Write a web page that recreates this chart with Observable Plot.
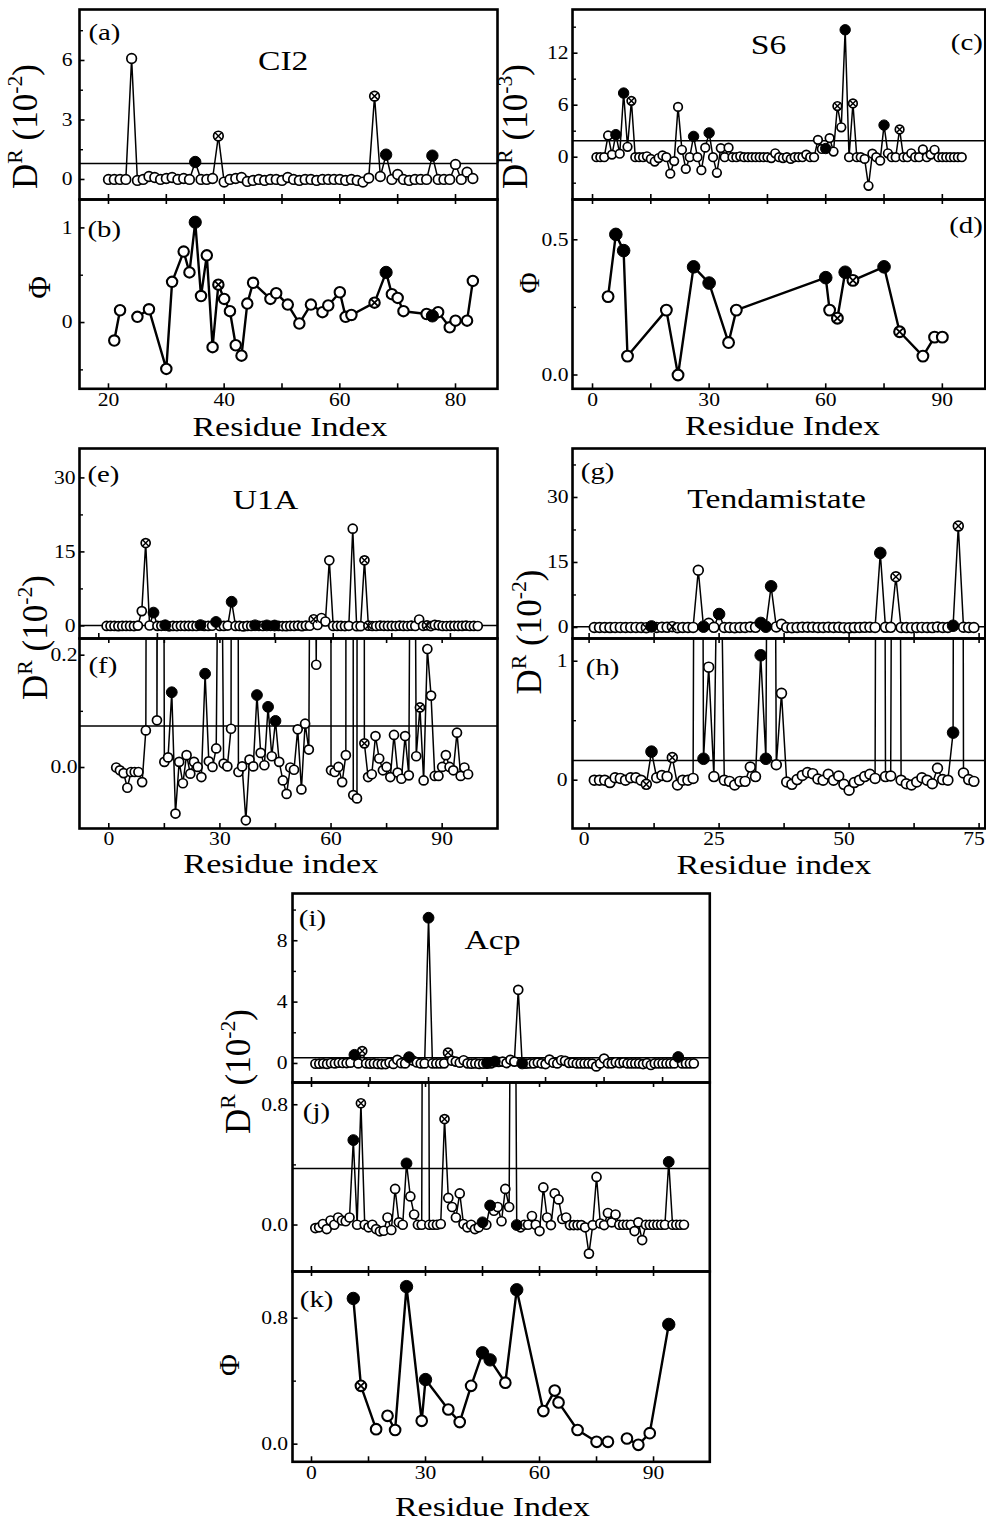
<!DOCTYPE html>
<html>
<head>
<meta charset="utf-8">
<script src="https://cdn.jsdelivr.net/npm/d3@7"></script>
<script src="https://cdn.jsdelivr.net/npm/@observablehq/plot@0.6"></script>
<style>
html,body{margin:0;padding:0;background:#fff;}
#fig{position:relative;width:986px;height:1524px;overflow:hidden;background:#fff;font-family:"Liberation Serif","Times New Roman",serif;}
#fig svg{position:absolute;overflow:visible;}
#fig text{font-family:"Liberation Serif","Times New Roman",serif;}
</style>
</head>
<body>
<div id="fig"></div>
<script>
// ---------------- DATA ----------------
// CI2 : D^R (10^-2), residues 20..83
const ci2DrFirst = 20;
const ci2Dr = [0,0,0,0,6.1,-0.05,0,0.15,0.1,0,
  0.05,0.1,0,0.05,0,0.88,0,0,0.05,2.19,
  -0.13,0,0.05,0.1,-0.1,-0.05,0,-0.05,0,0,
  -0.05,0.1,0,-0.05,0,0,-0.05,0,0,0,
  0,-0.05,0,-0.05,-0.13,0.07,4.2,0.15,1.25,0,
  0.25,0,-0.05,0,0,0,1.2,0,0,0,
  0.76,0,0.37,0.05];
const ci2Filled = [35,68,76];
const ci2Crossed = [39,66];
const ci2Threshold = 0.8;
// CI2 : Phi
const ci2PhiResidue = [21,22,25,27,30,31,33,34,35,36,37,38,39,40,41,42,43,44,45,48,49,51,53,55,57,58,60,61,62,66,68,69,70,71,75,76,77,79,80,82,83];
const ci2Phi = [-0.19,0.13,0.06,0.14,-0.49,0.43,0.75,0.53,1.06,0.28,0.71,-0.26,0.40,0.25,0.12,-0.24,-0.35,0.20,0.42,0.25,0.31,0.19,-0.01,0.19,0.11,0.18,0.32,0.06,0.08,0.21,0.53,0.30,0.26,0.12,0.09,0.07,0.11,-0.05,0.02,0.02,0.44];
const ci2PhiGaps = [23];

// S6 : D^R (10^-3), residues 1..95
const s6DrFirst = 1;
const s6Dr = [0,0,0,2.5,0.3,2.6,0.4,7.4,1.2,6.5,
  0,0,0,0.1,-0.2,-0.5,-0.1,0.2,0,-1.9,
  -0.45,5.8,0.85,-1.35,0,2.4,0,-1.5,1.1,2.8,
  0,-1.8,1.05,0,1.1,0,0,0.1,0,0,
  0,0,0,0,0,-0.1,0.45,0,-0.1,0,
  -0.2,0,0,0,0.3,0,0,2.0,0.95,1.0,
  2.2,0.65,5.9,3.45,14.7,0,6.2,0,0,-0.2,
  -3.3,0.4,0,-0.4,3.7,0.45,0,0,3.2,0,
  0,0.45,0,0,0.9,0,0.3,0.85,0,0,
  0,0,0,0,0];
const s6DrFilled = [6,8,26,30,60,65,75];
const s6DrCrossed = [10,63,67,79];
const s6Threshold = 1.9;
// S6 : Phi
const s6PhiResidue = [4,6,8,9,19,22,26,30,35,37,60,61,63,65,67,75,79,85,88,90];
const s6Phi = [0.29,0.52,0.46,0.07,0.24,0.0,0.40,0.34,0.12,0.24,0.36,0.24,0.21,0.38,0.35,0.40,0.16,0.07,0.14,0.14];
const s6PhiFilled = [6,8,26,30,60,65,75];
const s6PhiCrossed = [63,67,79];

// U1A : D^R (10^-2), residues 2..97
const u1aDrFirst = 2;
const u1aDr = [0.000,-0.005,-0.010,-0.036,-0.008,-0.008,-0.008,-0.026,0.066,3.0,
  16.8,0.084,2.7,0.010,0.018,0.134,-0.082,0.010,-0.028,0.022,
  -0.011,0.010,0.001,-0.017,0.167,0.011,0.001,0.034,0.8,0.007,
  0.002,0.069,4.9,-0.008,0.002,-0.094,0.014,0.002,0.129,0.026,
  0.004,0.108,0.020,0.083,0.010,-0.023,-0.047,0.000,-0.004,0.068,
  -0.039,0.078,0.032,1.35,0.183,1.6,0.9,13.3,-0.005,-0.008,
  0.001,-0.026,0.022,19.7,-0.049,-0.055,13.3,0.043,-0.017,-0.012,
  0.056,0.016,-0.005,0.001,-0.017,0.058,-0.009,-0.020,0.056,-0.014,
  1.3,0.020,0.107,-0.023,0.211,0.128,-0.015,-0.015,0.001,0.022,
  0.001,-0.005,0.062,-0.015,0.000,-0.012];
const u1aFilled = [14,17,26,30,34,40,43,45];
const u1aCrossed = [12,55,68,69,84];
const u1aThreshold = 0.074;

// Tendamistat : D^R (10^-2), residues 1..74
const tenDrFirst = 1;
const tenDr = [0,0,0,-0.02,0.02,0.015,0,0.02,0.02,0,
  -0.035,0.24,0.02,0.04,0.03,0.19,-0.04,0,0,0.015,
  13.2,0.18,0.95,0.03,3.1,0,-0.01,-0.04,-0.01,-0.01,
  0.11,0.03,1.05,0.18,9.5,0.13,0.73,-0.015,-0.035,0.005,
  0.04,0.065,0.055,0.01,0,0.05,0,0.035,-0.035,-0.085,
  -0.02,0,0.03,0.05,0.015,17.2,0.03,0.035,11.7,0,
  -0.03,-0.04,-0.015,0.02,0,-0.03,0.1,0.005,0,0.40,
  23.4,0.06,0.005,-0.01];
const tenFilled = [12,22,25,33,34,35,56,70];
const tenCrossed = [11,16,59,71];
const tenThreshold = 0.165;

// Acp : D^R (10^-2), residues 1..98
const acpDrFirst = 1;
const acpDr = [-0.02,-0.015,0.007,-0.027,0.03,0.002,0.05,0.03,0.025,0.05,
  0.565,0.002,0.81,0.002,-0.015,0.002,-0.027,-0.042,-0.038,0.05,
  -0.033,0.24,0.018,0.002,0.41,0.19,0.07,0.002,0.002,9.5,
  0.002,0.002,0.002,0.007,0.705,0.18,0.12,0.05,0.21,0.007,
  -0.015,0.002,-0.027,-0.015,0.018,0.002,0.13,0.095,0.12,0.025,
  0.24,0.12,4.8,0.0,-0.015,0.002,0.002,0.06,0.002,-0.04,
  0.25,0.05,0.0,0.21,0.17,0.04,0.05,0.0,0.0,0.0,
  0.0,-0.015,-0.19,0.0,0.32,0.01,0.0,0.08,0.018,0.07,
  0.002,0.002,0.002,0.002,-0.04,0.018,-0.1,0.002,0.002,0.002,
  0.002,0.002,0.002,0.42,0.002,0.002,0.002,0.002];
const acpDrFilled = [11,25,30,45,47,54,94];
const acpDrCrossed = [13,35];
const acpThreshold = 0.376;
// Acp : Phi
const acpPhiResidue = [11,13,17,20,22,25,29,30,36,39,42,45,47,51,54,61,64,65,70,75,78,83,86,89,94];
const acpPhi = [0.925,0.37,0.095,0.18,0.09,1.0,0.148,0.41,0.22,0.14,0.37,0.58,0.535,0.39,0.98,0.21,0.34,0.265,0.09,0.015,0.015,0.036,-0.004,0.07,0.76];
const acpPhiFilled = [11,25,30,45,47,54,94];
const acpPhiCrossed = [13];
const acpPhiGaps = [18,80];

// Tick values and labels
const ci2XTicks = [20,30,40,50,60,70,80];
const ci2XLabels = [20,40,60,80];
const x90Ticks = [0,15,30,45,60,75,90];
const x90Labels = [0,30,60,90];
const tenXTicks = [0,12.5,25,37.5,50,62.5,75];
const tenXLabels = [0,25,50,75];

// ---------------- DRAWING ----------------
const FONT = "'Liberation Serif', 'Times New Roman', serif";
const fig = document.getElementById("fig");

function kindOf(res, filled, crossed) {
  return filled.includes(res) ? "f" : crossed.includes(res) ? "x" : "o";
}
function rowsSeq(first, vals, filled, crossed) {
  return vals.map((v, i) => ({res: first + i, val: v, kind: kindOf(first + i, filled, crossed)}));
}
function rowsRes(res, vals, filled, crossed) {
  return vals.map((v, i) => ({res: res[i], val: v, kind: kindOf(res[i], filled, crossed)}));
}

function panel(o) {
  const W = o.width, H = o.height;
  const rows = o.rows;
  const lineRows = o.gaps
    ? rows.concat(o.gaps.map(g => ({res: g, val: NaN}))).sort((a, b) => a.res - b.res)
    : rows;
  const marks = [];
  if (o.threshold != null) marks.push(Plot.ruleY([o.threshold], {stroke: "black", strokeWidth: 1.5}));
  marks.push(Plot.line(lineRows, {x: "res", y: "val", stroke: "black", strokeWidth: o.lw, clip: true}));
  marks.push(Plot.dot(rows.filter(d => d.kind !== "f"), {x: "res", y: "val", r: o.r, fill: "white", stroke: "black", strokeWidth: o.sw, clip: true}));
  marks.push(Plot.dot(rows.filter(d => d.kind === "f"), {x: "res", y: "val", r: o.r + 0.9, fill: "black", stroke: "black", strokeWidth: 1, clip: true}));
  marks.push(Plot.dot(rows.filter(d => d.kind === "x"), {x: "res", y: "val", r: o.r * 0.72, symbol: "times", stroke: "black", strokeWidth: o.sw * 0.85, clip: true}));
  marks.push(Plot.tickX(o.xTicks, {x: d => d, insetTop: H - 5, stroke: "black", strokeWidth: 1.6}));
  if (o.topTicks) marks.push(Plot.tickX(o.xTicks, {x: d => d, insetBottom: H - 5, stroke: "black", strokeWidth: 1.6}));
  marks.push(Plot.tickY(o.yTicks, {y: d => d, insetRight: W - 5.5, stroke: "black", strokeWidth: 1.6}));
  marks.push(Plot.tickY(o.yMinor, {y: d => d, insetRight: W - 4, stroke: "black", strokeWidth: 1.4}));
  marks.push(Plot.frame({stroke: "black", strokeWidth: 2.6}));
  marks.push(Plot.text(o.yTicks, {y: d => d, text: (d, i) => o.yText[i], frameAnchor: "left", textAnchor: "end", dx: -o.yGap, lineAnchor: "middle", fontSize: 18, fontFamily: FONT, fill: "black"}));
  if (o.xLabels) marks.push(Plot.text(o.xLabels, {x: d => d, text: d => String(d), frameAnchor: "bottom", lineAnchor: "top", dx: o.xLabelDx || 0, dy: 4, fontSize: 18, fontFamily: FONT, fill: "black"}));
  if (o.labelRight != null) {
    marks.push(Plot.text([o.label], {frameAnchor: "top-right", textAnchor: "end", dx: o.labelRight - (o.left + W), dy: o.labelBase - o.top, lineAnchor: "bottom", fontSize: 24, fontFamily: FONT, fill: "black"}));
  } else {
    marks.push(Plot.text([o.label], {frameAnchor: "top-left", textAnchor: "start", dx: o.labelLeft - o.left, dy: o.labelBase - o.top, lineAnchor: "bottom", fontSize: 24, fontFamily: FONT, fill: "black"}));
  }
  if (o.title) marks.push(Plot.text([o.title], {frameAnchor: "top-left", textAnchor: "middle", dx: o.titleX - o.left, dy: o.titleBase - o.top, lineAnchor: "bottom", fontSize: 28, fontFamily: FONT, fill: "black"}));

  const svg = Plot.plot({
    width: W, height: H,
    marginLeft: 0, marginRight: 0, marginTop: 0, marginBottom: 0,
    x: {domain: o.xDomain, axis: null},
    y: {domain: o.yDomain, axis: null},
    style: {background: "none", overflow: "visible", fontFamily: FONT},
    marks
  });
  svg.style.left = o.left + "px";
  svg.style.top = o.top + "px";
  fig.appendChild(svg);
  svg.querySelectorAll("text").forEach(t => {
    const L = t.getComputedTextLength();
    if (L > 0) {
      t.setAttribute("textLength", (L * 1.2).toFixed(2));
      t.setAttribute("lengthAdjust", "spacingAndGlyphs");
    }
  });
}

const DR = {r: 4.5, sw: 1.7, lw: 1.5};
const PHI = {r: 5.2, sw: 2.1, lw: 2.4};

// (a)
panel({...DR, r: 4.8, left: 79, top: 9, width: 418, height: 190, xDomain: [14.99, 87.26], yDomain: [-1.01, 8.57],
  rows: rowsSeq(ci2DrFirst, ci2Dr, ci2Filled, ci2Crossed), threshold: ci2Threshold,
  xTicks: ci2XTicks, yTicks: [0,3,6], yText: ["0","3","6"], yMinor: [1.5,4.5,7.5], yGap: 7,
  label: "(a)", labelLeft: 88, labelBase: 39.5, title: "CI2", titleX: 282.7, titleBase: 69.3});
// (b)
panel({...PHI, left: 79, top: 199, width: 418, height: 189.3, xDomain: [14.99, 87.26], yDomain: [-0.70, 1.30],
  rows: rowsRes(ci2PhiResidue, ci2Phi, ci2Filled, ci2Crossed), gaps: ci2PhiGaps,
  xTicks: ci2XTicks, xLabels: ci2XLabels, topTicks: true, yTicks: [0,1], yText: ["0","1"], yMinor: [-0.5,0.5], yGap: 7,
  label: "(b)", labelLeft: 87, labelBase: 237});
// (c)
panel({...DR, r: 4.3, left: 571.7, top: 9, width: 412.8, height: 190, xDomain: [-5.15, 101.05], yDomain: [-4.88, 17.04],
  rows: rowsSeq(s6DrFirst, s6Dr, s6DrFilled, s6DrCrossed), threshold: s6Threshold,
  xTicks: x90Ticks, yTicks: [0,6,12], yText: ["0","6","12"], yMinor: [-3,3,9,15], yGap: 4,
  label: "(c)", labelRight: 982, labelBase: 50, title: "S6", titleX: 767.7, titleBase: 54});
// (d)
panel({...PHI, r: 5.4, left: 571.7, top: 199, width: 412.8, height: 189.3, xDomain: [-5.15, 101.05], yDomain: [-0.051, 0.649],
  rows: rowsRes(s6PhiResidue, s6Phi, s6PhiFilled, s6PhiCrossed),
  xTicks: x90Ticks, xLabels: x90Labels, topTicks: true, yTicks: [0,0.5], yText: ["0.0","0.5"], yMinor: [0.25], yGap: 4,
  label: "(d)", labelRight: 982, labelBase: 232.7});
// (e)
panel({...DR, left: 79, top: 448.3, width: 418, height: 190, xDomain: [-4.94, 102.05], yDomain: [-2.55, 35.96],
  rows: rowsSeq(u1aDrFirst, u1aDr, u1aFilled, u1aCrossed), threshold: u1aThreshold,
  xTicks: x90Ticks, yTicks: [0,15,30], yText: ["0","15","30"], yMinor: [7.5,22.5], yGap: 4,
  label: "(e)", labelLeft: 87, labelBase: 481.7, title: "U1A", titleX: 265, titleBase: 508.3});
// (f)
panel({...DR, left: 79, top: 638.3, width: 418, height: 190, xDomain: [-7.91, 104.94], yDomain: [-0.1086, 0.2297],
  rows: rowsSeq(u1aDrFirst, u1aDr, u1aFilled, u1aCrossed), threshold: u1aThreshold,
  xTicks: x90Ticks, xLabels: x90Labels, topTicks: true, yTicks: [0,0.2], yText: ["0.0","0.2"], yMinor: [0.1], yGap: 2,
  label: "(f)", labelLeft: 88, labelBase: 672.7});
// (g)
panel({...DR, r: 4.9, left: 571.7, top: 448.3, width: 412.8, height: 190, xDomain: [-3.19, 76.19], yDomain: [-2.54, 41.3],
  rows: rowsSeq(tenDrFirst, tenDr, tenFilled, tenCrossed), threshold: tenThreshold,
  xTicks: tenXTicks, yTicks: [0,15,30], yText: ["0","15","30"], yMinor: [7.5,22.5,37.5], yGap: 4,
  label: "(g)", labelLeft: 580, labelBase: 479.3, title: "Tendamistate", titleX: 775.8, titleBase: 508.3});
// (h)
panel({...DR, r: 4.9, left: 571.7, top: 638.3, width: 412.8, height: 190, xDomain: [-3.19, 76.19], yDomain: [-0.406, 1.191],
  rows: rowsSeq(tenDrFirst, tenDr, tenFilled, tenCrossed), threshold: tenThreshold,
  xTicks: tenXTicks, xLabels: tenXLabels, xLabelDx: -5, topTicks: true, yTicks: [0,1], yText: ["0","1"], yMinor: [0.5], yGap: 5,
  label: "(h)", labelLeft: 585, labelBase: 675});
// (i)
panel({...DR, left: 291.7, top: 892.7, width: 417.3, height: 189, xDomain: [-4.87, 102.1], yDomain: [-1.24, 11.08],
  rows: rowsSeq(acpDrFirst, acpDr, acpDrFilled, acpDrCrossed), threshold: acpThreshold,
  xTicks: x90Ticks, yTicks: [0,4,8], yText: ["0","4","8"], yMinor: [2,6,10], yGap: 5,
  label: "(i)", labelLeft: 298, labelBase: 925, title: "Acp", titleX: 491.7, titleBase: 948.3});
// (j)
panel({...DR, left: 291.7, top: 1081.7, width: 417.3, height: 189, xDomain: [-5, 104.8], yDomain: [-0.309, 0.948],
  rows: rowsSeq(acpDrFirst, acpDr, acpDrFilled, acpDrCrossed), threshold: acpThreshold,
  xTicks: x90Ticks, topTicks: true, yTicks: [0,0.8], yText: ["0.0","0.8"], yMinor: [0.4], yGap: 4.4,
  label: "(j)", labelLeft: 302, labelBase: 1118.7});
// (k)
panel({...PHI, r: 5.3, left: 291.7, top: 1270.7, width: 417.3, height: 190.3, xDomain: [-5, 104.8], yDomain: [-0.112, 1.096],
  rows: rowsRes(acpPhiResidue, acpPhi, acpPhiFilled, acpPhiCrossed), gaps: acpPhiGaps,
  xTicks: x90Ticks, xLabels: x90Labels, topTicks: true, yTicks: [0,0.8], yText: ["0.0","0.8"], yMinor: [0.4], yGap: 4.4,
  label: "(k)", labelLeft: 299, labelBase: 1306.7});

// ---------------- AXIS TITLES ----------------
const over = d3.create("svg").attr("width", 986).attr("height", 1524)
  .style("left", "0px").style("top", "0px").style("pointer-events", "none");
fig.appendChild(over.node());

function drTitle(x, y, exp, fs) {
  const t = over.append("text").attr("transform", `translate(${x},${y}) rotate(-90)`)
    .attr("text-anchor", "middle").style("font-family", FONT).attr("font-size", fs).attr("fill", "black");
  const sup = fs * 0.62, rise = fs * 0.42;
  t.append("tspan").text("D");
  t.append("tspan").attr("font-size", sup).attr("dy", -rise).text("R");
  t.append("tspan").attr("dy", rise).text("\u00a0(10");
  t.append("tspan").attr("font-size", sup).attr("dy", -rise).text("-" + exp);
  t.append("tspan").attr("dy", rise).text(")");
}
function phiTitle(x, y, fs) {
  over.append("text").attr("transform", `translate(${x},${y}) rotate(-90)`)
    .attr("text-anchor", "middle").style("font-family", FONT).attr("font-size", fs).attr("fill", "black")
    .text("\u03A6");
}
function xTitle(x, y, txt) {
  over.append("text").attr("x", x).attr("y", y).attr("text-anchor", "middle")
    .style("font-family", FONT).attr("font-size", 27).attr("fill", "black")
    .attr("textLength", 195).attr("lengthAdjust", "spacingAndGlyphs").text(txt);
}

drTitle(37, 126.5, "2", 35);
drTitle(527, 126.5, "3", 35);
drTitle(47, 637.5, "2", 35);
drTitle(541, 632, "2", 35);
drTitle(250, 1071.5, "2", 35);
phiTitle(50, 287.5, 31);
phiTitle(539, 283, 29);
phiTitle(238.5, 1365, 30);
xTitle(290, 435.5, "Residue Index");
xTitle(782.5, 435, "Residue Index");
xTitle(280.8, 872.5, "Residue index");
xTitle(774, 873.5, "Residue index");
xTitle(492.5, 1516, "Residue Index");
</script>
</body>
</html>
